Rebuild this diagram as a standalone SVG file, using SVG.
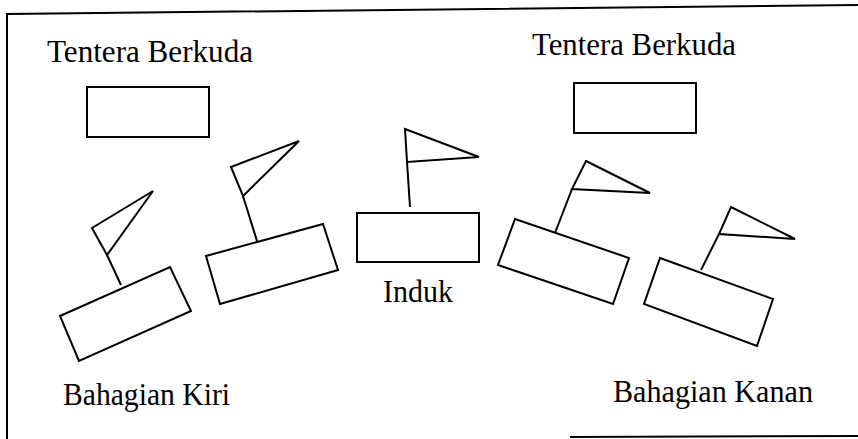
<svg xmlns="http://www.w3.org/2000/svg" width="858" height="439" viewBox="0 0 858 439">
<style>
.s{fill:none;stroke:#000;stroke-width:2;stroke-linejoin:miter}
.t{font-family:"Liberation Serif","Times New Roman",serif;font-size:32px;fill:#000}
</style>
<rect width="858" height="439" fill="#fff"/>
<g id="frame" class="s">
<polyline points="7,439 7,14 858,5"/>
<line x1="570" y1="437" x2="858" y2="436"/>
</g>
<g id="cavalry-left">
<text class="t" x="47" y="62" textLength="206" lengthAdjust="spacingAndGlyphs">Tentera Berkuda</text>
<rect class="s" x="87" y="87" width="122" height="50"/>
</g>
<g id="cavalry-right">
<text class="t" x="532" y="55" textLength="204" lengthAdjust="spacingAndGlyphs">Tentera Berkuda</text>
<rect class="s" x="574" y="83" width="122" height="50"/>
</g>
<g id="left-1">
<polygon class="s" points="60,316 170,267 191,311 79,361"/>
<polygon class="s" points="92,228 153,191 107,255"/>
</g>
<g id="left-2">
<polygon class="s" points="206,256 323,224 338,270 220,304"/>
<polygon class="s" points="231,167 299,141 243,196"/>
</g>
<g id="induk">
<rect class="s" x="357" y="213" width="122" height="49"/>
<polygon class="s" points="405,129 479,157 407,162"/>
<text class="t" x="383" y="302" textLength="70" lengthAdjust="spacingAndGlyphs">Induk</text>
</g>
<g id="right-1">
<polygon class="s" points="515,219 629,258 613,304 498,265"/>
<polygon class="s" points="586,161 650,193 572,189"/>
</g>
<g id="right-2">
<polygon class="s" points="660,258 773,299 757,346 644,304"/>
<polygon class="s" points="731,207 795,239 719,234"/>
</g>
<g id="labels">
<text class="t" x="63" y="405" textLength="167" lengthAdjust="spacingAndGlyphs">Bahagian Kiri</text>
<text class="t" x="613" y="402" textLength="200" lengthAdjust="spacingAndGlyphs">Bahagian Kanan</text>
</g>
<g id="connectors" class="s">
<line x1="107" y1="255" x2="121" y2="285"/>
<line x1="243" y1="196" x2="257" y2="241"/>
<line x1="407" y1="162" x2="410" y2="207"/>
<line x1="572" y1="189" x2="555" y2="233"/>
<line x1="719" y1="234" x2="701" y2="270"/>
</g>
</svg>
